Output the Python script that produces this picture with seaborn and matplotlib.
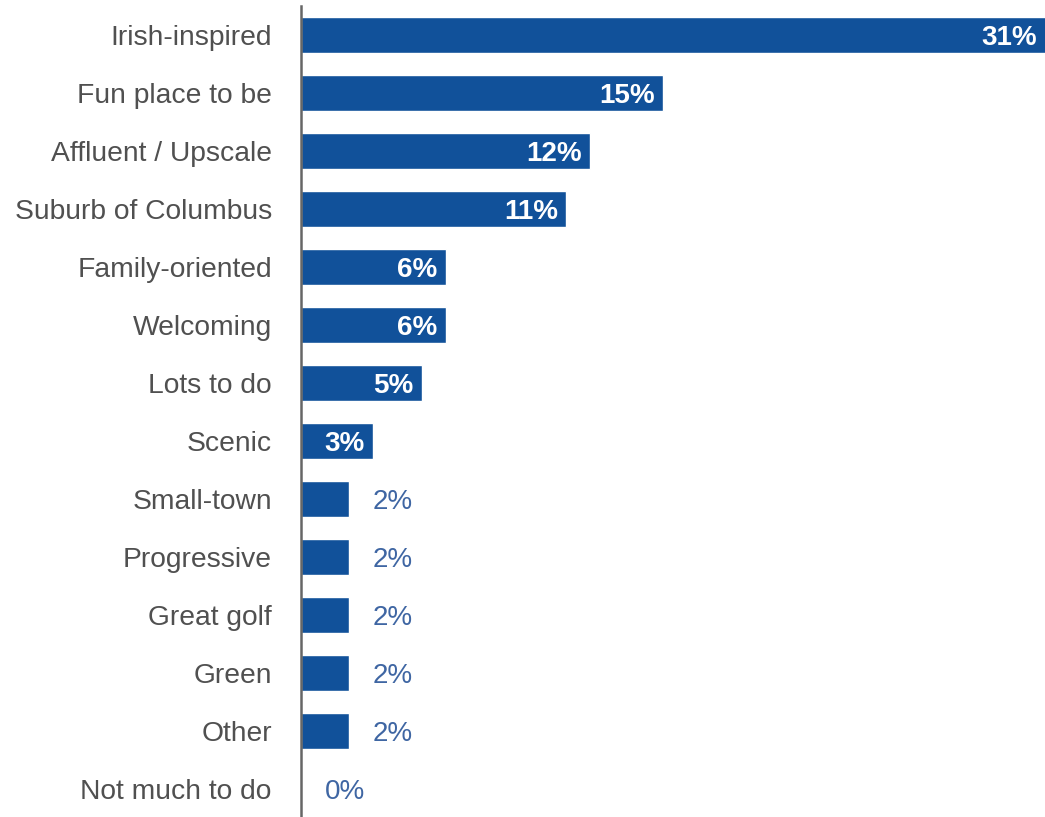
import matplotlib
matplotlib.use("Agg")
import matplotlib.pyplot as plt
import seaborn as sns
import pandas as pd

categories = ["Irish-inspired", "Fun place to be", "Affluent / Upscale", "Suburb of Columbus",
              "Family-oriented", "Welcoming", "Lots to do", "Scenic", "Small-town",
              "Progressive", "Great golf", "Green", "Other", "Not much to do"]
values = [31, 15, 12, 11, 6, 6, 5, 3, 2, 2, 2, 2, 2, 0]

df = pd.DataFrame({"category": categories, "value": values})

sns.set_theme(style="white")
plt.rcParams["font.family"] = ["Liberation Sans", "DejaVu Sans"]

W, H = 1045, 817
fig = plt.figure(figsize=(W / 100, H / 100), dpi=100)
ax = fig.add_axes([301 / W, 0, 744 / W, 811 / H])

bar_color = "#11519a"
sns.barplot(data=df, x="value", y="category", orient="h", color=bar_color,
            width=0.61, saturation=1, ax=ax)

ax.set_xlim(0, 30.85)
ax.set_ylim(13.48, -0.5)
ax.set_xlabel("")
ax.set_ylabel("")
ax.set_xticks([])
ax.tick_params(axis="y", length=0, pad=21, labelsize=20.3, labelcolor="#505050")

for side in ["top", "right", "bottom"]:
    ax.spines[side].set_visible(False)
ax.spines["left"].set_color("#666666")
ax.spines["left"].set_linewidth(1.8)

for i, v in enumerate(values):
    if v >= 3:
        ax.annotate(f"{v}%", xy=(min(v, 30.85), i), xytext=(-6, 0), textcoords="offset points",
                    ha="right", va="center_baseline", color="white", fontweight="bold",
                    fontsize=20, annotation_clip=False)
    else:
        ax.annotate(f"{v}%", xy=(v, i), xytext=(17, 0), textcoords="offset points",
                    ha="left", va="center_baseline", color="#3f66a3", fontsize=20,
                    annotation_clip=False)

fig.savefig("out.png", dpi=100)
